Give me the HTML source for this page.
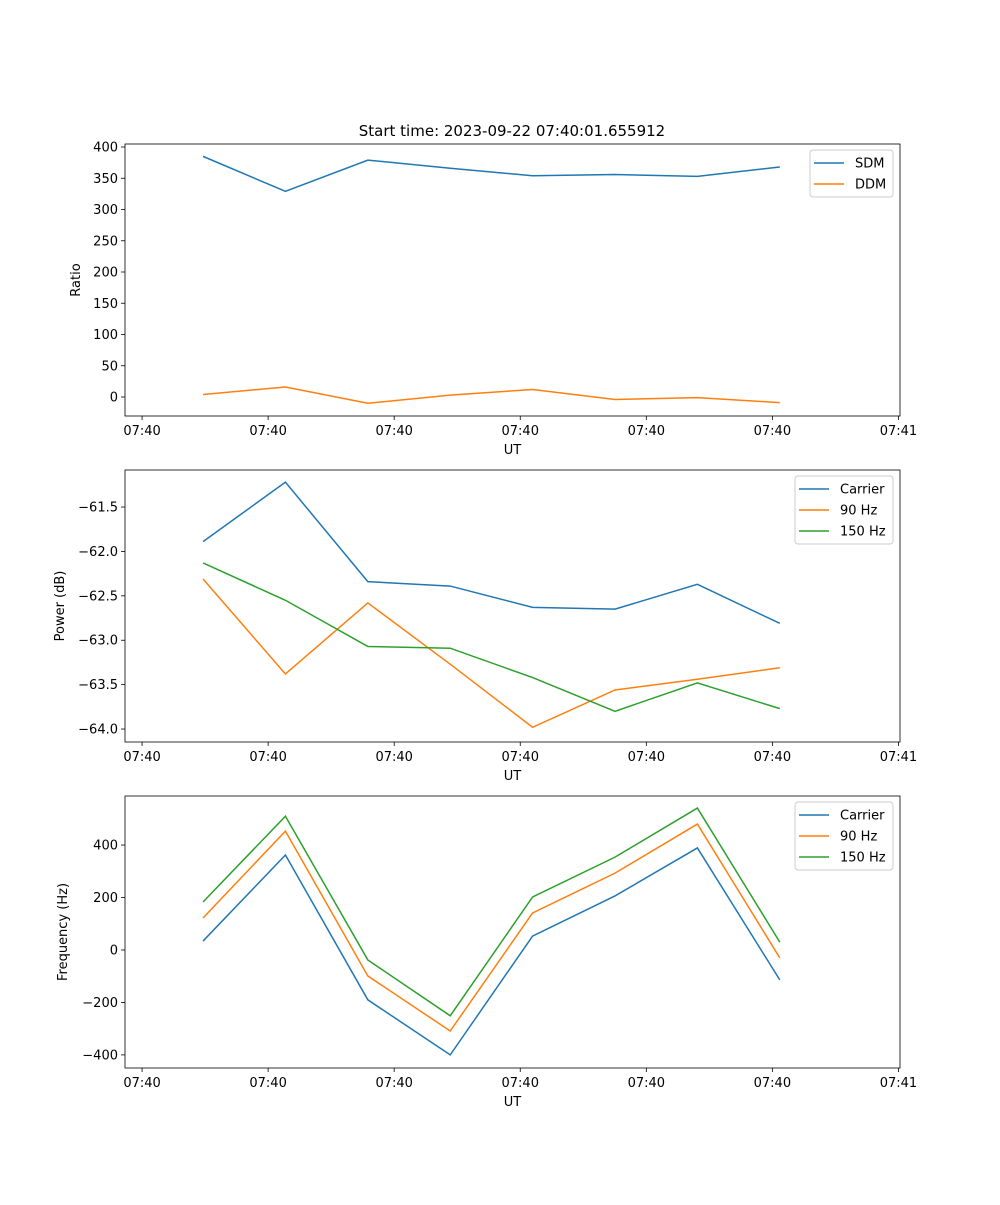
<!DOCTYPE html>
<html><head><meta charset="utf-8"><style>
body{margin:0;background:#fff;}
svg text{font-family:"DejaVu Sans","Liberation Sans",sans-serif;font-size:13px;fill:#000;}
</style></head><body>
<svg id="fig" width="1000" height="1200" xmlns="http://www.w3.org/2000/svg"></svg>
<script>
const xIdx = [0,1,2,3,4,5,6,7];
const xTickVals = [-0.74,0.79,2.32,3.85,5.38,6.91,8.44];
const xTickLabels = ["07:40","07:40","07:40","07:40","07:40","07:40","07:41"];
const sdm = [385,329,379,366,354,356,353,368];
const ddm = [4,16,-10,3,12,-4,-1,-9];
const pCarrier = [-61.89,-61.22,-62.34,-62.39,-62.63,-62.65,-62.37,-62.81];
const p90 = [-62.31,-63.38,-62.58,-63.27,-63.98,-63.56,-63.44,-63.31];
const p150 = [-62.13,-62.55,-63.07,-63.09,-63.42,-63.8,-63.48,-63.77];
const fCarrier = [34,362,-190,-400,53,206,389,-114];
const f90 = [122,453,-99,-309,141,293,480,-30];
const f150 = [183,510,-38,-251,202,354,541,30];
const yTicks1 = [0,50,100,150,200,250,300,350,400];
const yTicks2 = [-64.0,-63.5,-63.0,-62.5,-62.0,-61.5];
const yTicks3 = [-400,-200,0,200,400];

const svg=document.getElementById('fig');
const NS='http://www.w3.org/2000/svg';
function mk(tag,attrs,parent,txt){const e=document.createElementNS(NS,tag);for(const k in attrs)e.setAttribute(k,attrs[k]);if(txt!==undefined)e.textContent=txt;(parent||svg).appendChild(e);return e;}
const L=125,R=900;
const XMIN=-0.947,XMAX=8.459;
const xs=v=>L+(v-XMIN)/(XMAX-XMIN)*(R-L);
function panel(name,top,bottom,ymin,ymax,yTicks,fmt,ylabel,series,legend){
  const g=mk('g',{});
  
  
  const ys=v=>bottom-(v-ymin)/(ymax-ymin)*(bottom-top);
  series.forEach(s=>{
    const p=mk('polyline',{points:s.d.map((v,i)=>xs(xIdx[i])+','+ys(v)).join(' '),fill:'none',stroke:s.c,'stroke-width':1.5},g);
    
    
  });
  const frame=mk('rect',{x:L,y:top,width:R-L,height:bottom-top,fill:'none',stroke:'#000','stroke-width':0.8},g);
  
  
  xTickVals.forEach((v,i)=>{const x=xs(v);mk('line',{x1:x,x2:x,y1:bottom,y2:bottom+4,stroke:'#000','stroke-width':0.8},g);
    const t=mk('text',{x:x,y:bottom+19,'text-anchor':'middle'},g,xTickLabels[i]);
    
    });
  yTicks.forEach(v=>{const y=ys(v);mk('line',{x1:L-4,x2:L,y1:y,y2:y,stroke:'#000','stroke-width':0.8},g);
    const t=mk('text',{x:L-7,y:y+4.5,'text-anchor':'end'},g,fmt(v));
    
    });
  const xl=mk('text',{x:(L+R)/2,y:bottom+38,'text-anchor':'middle'},g,'UT');
  
  
  const yl=mk('text',{x:0,y:0,'text-anchor':'middle',transform:`translate(${ylabel.x},${(top+bottom)/2}) rotate(-90)`},g,ylabel.t);
  
  
  const lg=mk('g',{},g);
  
  
  mk('rect',{x:legend.x,y:top+6,width:legend.w,height:series.length*21+5,rx:3,fill:'#fff',stroke:'#ccc','stroke-width':1},lg);
  series.forEach((s,i)=>{const y=top+19+i*21;
    mk('line',{x1:legend.x+4,x2:legend.x+34,y1:y,y2:y,stroke:s.c,'stroke-width':1.5},lg);
    const t=mk('text',{x:legend.x+45,y:y+4.5},lg,s.n);
    
    });
}
const C1='#1f77b4',C2='#ff7f0e',C3='#2ca02c';
const title=mk('text',{x:512,y:136,'text-anchor':'middle',style:'font-size:15px'},svg,'Start time: 2023-09-22 07:40:01.655912');


panel('ratio-panel',144,416,-30.4,404.8,yTicks1,v=>String(v),{x:80,t:'Ratio'},
  [{n:'SDM',d:sdm,c:C1},{n:'DDM',d:ddm,c:C2}],{x:810,w:83});
panel('power-panel',470,742,-64.146,-61.083,yTicks2,v=>(v<0?'\u2212':'')+Math.abs(v).toFixed(1),{x:64,t:'Power (dB)'},
  [{n:'Carrier',d:pCarrier,c:C1},{n:'90 Hz',d:p90,c:C2},{n:'150 Hz',d:p150,c:C3}],{x:795,w:98});
panel('frequency-panel',796,1068,-450,587,yTicks3,v=>(v<0?'\u2212':'')+Math.abs(v),{x:67,t:'Frequency (Hz)'},
  [{n:'Carrier',d:fCarrier,c:C1},{n:'90 Hz',d:f90,c:C2},{n:'150 Hz',d:f150,c:C3}],{x:795,w:98});
</script>
</body></html>
